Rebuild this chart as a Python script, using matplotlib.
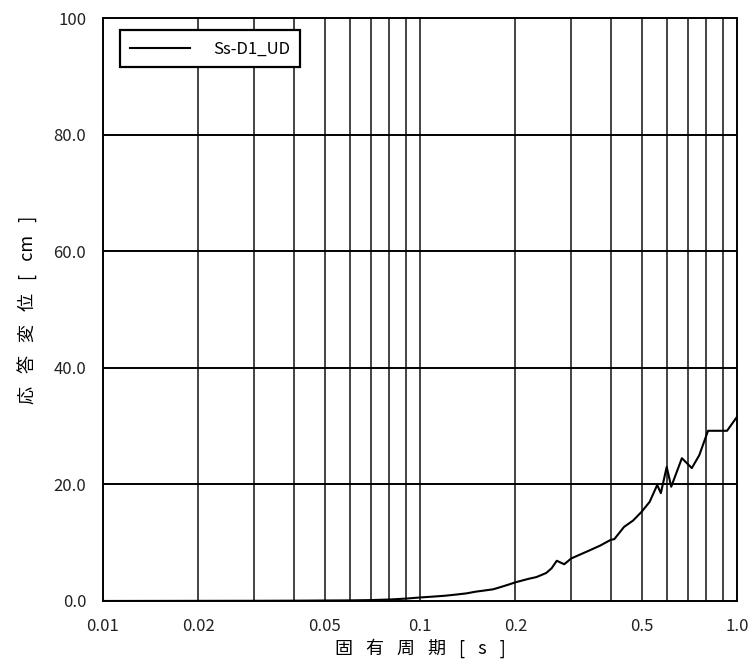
import matplotlib
matplotlib.use("Agg")
import matplotlib.pyplot as plt
from matplotlib.ticker import FixedLocator, NullFormatter

plt.rcParams['font.family'] = ['Noto Sans CJK JP', 'DejaVu Sans']

# 固有周期 [s] and 応答変位 [cm]
period = [0.01, 0.02, 0.03, 0.04, 0.05, 0.06, 0.07, 0.08, 0.09, 0.10,
          0.11, 0.12, 0.13, 0.14, 0.15, 0.16, 0.17, 0.18, 0.19, 0.20,
          0.22, 0.233, 0.25, 0.26, 0.27, 0.285, 0.30, 0.34, 0.37, 0.40,
          0.41, 0.44, 0.47, 0.50, 0.53, 0.56, 0.575, 0.60, 0.62, 0.67,
          0.72, 0.76, 0.81, 0.93, 1.0]
disp = [0.0, 0.02, 0.03, 0.05, 0.08, 0.1, 0.15, 0.25, 0.4, 0.6,
        0.75, 0.9, 1.1, 1.3, 1.6, 1.8, 2.0, 2.4, 2.8, 3.2,
        3.8, 4.1, 4.8, 5.6, 6.9, 6.3, 7.3, 8.6, 9.5, 10.5,
        10.6, 12.7, 13.8, 15.3, 17.0, 19.9, 18.5, 23.0, 19.6, 24.5,
        22.8, 25.0, 29.2, 29.2, 31.6]

xticks = [0.01, 0.02, 0.05, 0.1, 0.2, 0.5, 1.0]
xtick_labels = ["0.01", "0.02", "0.05", "0.1", "0.2", "0.5", "1.0"]
xgrid = [0.02, 0.03, 0.04, 0.05, 0.06, 0.07, 0.08, 0.09, 0.1,
         0.2, 0.3, 0.4, 0.5, 0.6, 0.7, 0.8, 0.9]
yticks = [0, 20, 40, 60, 80, 100]
ytick_labels = ["0.0", "20.0", "40.0", "60.0", "80.0", "100"]

gap = "\u2002 "
xlabel = gap.join(["固", "有", "周", "期", "[", "s", "]"])
ylabel = gap.join(["応", "答", "変", "位", "[", "cm", "]"])

fig = plt.figure(figsize=(7.54, 6.72), dpi=100)
ax = fig.add_axes([0.1366, 0.1057, 0.8409, 0.8673])

ax.plot(period, disp, color="black", linewidth=1.5, label="Ss-D1_UD")

ax.set_xscale("log")
ax.set_xlim(0.01, 1.0)
ax.set_ylim(0, 100)

for g in xgrid:
    ax.axvline(g, color="#111111", linewidth=1.1, zorder=0)
for g in yticks[1:-1]:
    ax.axhline(g, color="black", linewidth=1.4, zorder=0)

ax.xaxis.set_major_locator(FixedLocator(xticks))
ax.xaxis.set_minor_locator(FixedLocator([]))
ax.xaxis.set_minor_formatter(NullFormatter())
ax.set_xticklabels(xtick_labels)
ax.set_yticks(yticks)
ax.set_yticklabels(ytick_labels)
ax.tick_params(axis="both", length=0, labelsize=12, pad=12, colors="#222222")

for s in ax.spines.values():
    s.set_linewidth(1.4)
    s.set_color("black")

ax.set_xlabel(xlabel, fontsize=13, labelpad=3)
ax.set_ylabel(ylabel, fontsize=13, labelpad=11)

leg = ax.legend(loc="upper left", bbox_to_anchor=(0.027, 0.979), borderaxespad=0,
                fancybox=False, framealpha=1, edgecolor="black", fontsize=12,
                handlelength=3.6, borderpad=0.6, handletextpad=1.4)
leg.get_frame().set_linewidth(1.6)

fig.savefig("out.png", dpi=100)
